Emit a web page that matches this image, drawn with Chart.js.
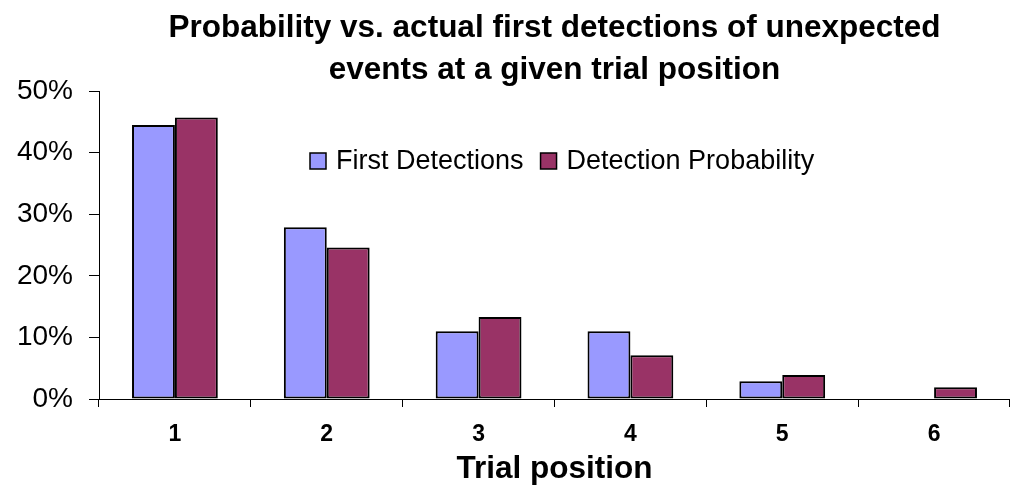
<!DOCTYPE html>
<html>
<head>
<meta charset="utf-8">
<script src="https://cdn.jsdelivr.net/npm/chart.js@4"></script>
<style>
  html, body { margin: 0; padding: 0; background: #fff; }
  #wrap { width: 1010px; height: 494px; }
</style>
</head>
<body>
<div id="wrap"><canvas id="chart" width="1010" height="494"></canvas></div>
<script>
const categories = ['1', '2', '3', '4', '5', '6'];
const firstDetections = [0.445, 0.279, 0.11, 0.11, 0.029, 0];
const detectionProbability = [0.457, 0.246, 0.133, 0.071, 0.039, 0.019];
const yTicks = [0, 0.1, 0.2, 0.3, 0.4, 0.5];

const FONT = "'Liberation Sans', Arial, sans-serif";

// legend drawn inside the plot area, like the original
const innerLegend = {
  id: 'innerLegend',
  afterDraw(chart) {
    const ctx = chart.ctx;
    ctx.save();
    ctx.font = '27px ' + FONT;
    ctx.textBaseline = 'middle';
    let x = 310;
    const y = 161;
    chart.data.datasets.forEach(ds => {
      ctx.fillStyle = ds.backgroundColor;
      ctx.fillRect(x, y - 8, 16, 16);
      ctx.strokeStyle = '#000';
      ctx.lineWidth = 1.5;
      ctx.strokeRect(x, y - 8, 16, 16);
      ctx.fillStyle = '#000';
      ctx.fillText(ds.label, x + 26, y + 1);
      x += 26 + ctx.measureText(ds.label).width + 17;
    });
    ctx.restore();
  }
};

new Chart(document.getElementById('chart'), {
  type: 'bar',
  data: {
    labels: categories,
    datasets: [
      {
        label: 'First Detections',
        data: firstDetections,
        backgroundColor: '#9999FF',
        borderColor: '#000',
        borderWidth: c => (c.raw ? 2 : 0),
        borderSkipped: false
      },
      {
        label: 'Detection Probability',
        data: detectionProbability,
        backgroundColor: '#993366',
        borderColor: '#000',
        borderWidth: c => (c.raw ? 2 : 0),
        borderSkipped: false
      }
    ]
  },
  options: {
    responsive: false,
    animation: false,
    layout: { padding: { left: 0, right: 0, top: 0, bottom: 0 } },
    datasets: { bar: { categoryPercentage: 0.565, barPercentage: 1 } },
    plugins: {
      legend: { display: false },
      tooltip: { enabled: false },
      title: {
        display: true,
        fullSize: false,
        text: ['Probability vs. actual first detections of unexpected',
               'events at a given trial position'],
        color: '#000',
        font: { family: FONT, size: 31.5, weight: 'bold', lineHeight: '42px' },
        padding: { top: 7, bottom: 0 }
      }
    },
    scales: {
      x: {
        grid: { offset: true, drawOnChartArea: false, tickLength: 8, color: '#000' },
        border: { display: true, color: '#000', width: 1 },
        ticks: { color: '#000', padding: 14, font: { family: FONT, size: 23, weight: 'bold' } },
        title: {
          display: true,
          text: 'Trial position',
          color: '#000',
          font: { family: FONT, size: 31.5, weight: 'bold', lineHeight: '50px' },
          padding: 0
        },
        afterFit: s => { s.height = 95; }
      },
      y: {
        min: 0,
        max: 0.5,
        grid: { drawOnChartArea: false, tickLength: 10, color: '#000' },
        border: { display: true, color: '#000', width: 1 },
        afterBuildTicks: s => { s.ticks = yTicks.map(v => ({ value: v })); },
        ticks: {
          color: '#000',
          padding: 16,
          font: { family: FONT, size: 28 },
          callback: v => Math.round(v * 100) + '%'
        },
        afterFit: s => { s.width = 99; }
      }
    }
  },
  plugins: [innerLegend]
});
</script>
</body>
</html>
